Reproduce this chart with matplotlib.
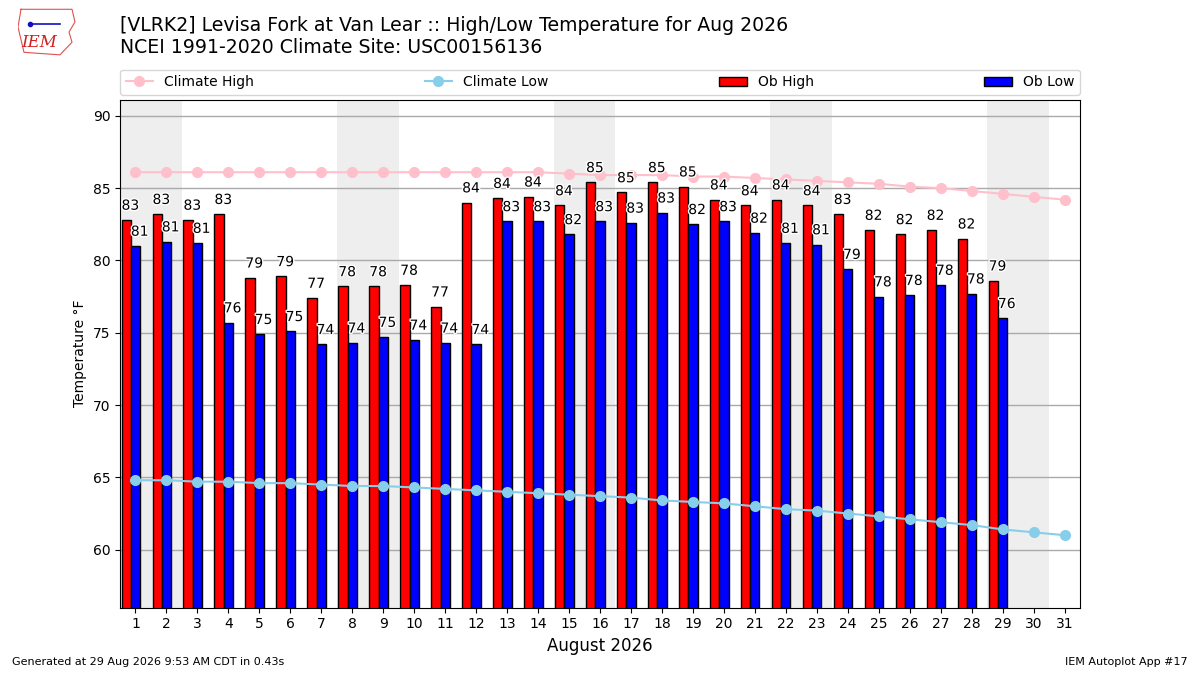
import numpy as np
import matplotlib
matplotlib.use("Agg")
from matplotlib import pyplot as plt
import matplotlib.patheffects as PathEffects

days = np.arange(1, 32)
ob_high = [82.8, 83.2, 82.8, 83.2, 78.8, 78.9, 77.4, 78.2, 78.2, 78.3,
           76.8, 84.0, 84.3, 84.4, 83.8, 85.4, 84.7, 85.4, 85.1, 84.2,
           83.8, 84.2, 83.8, 83.2, 82.1, 81.8, 82.1, 81.5, 78.6]
ob_low = [81.0, 81.3, 81.2, 75.7, 74.9, 75.1, 74.2, 74.3, 74.7, 74.5,
          74.3, 74.2, 82.7, 82.7, 81.8, 82.7, 82.6, 83.3, 82.5, 82.7,
          81.9, 81.2, 81.1, 79.4, 77.5, 77.6, 78.3, 77.7, 76.0]
climo_high = [86.1] * 14 + [86.0, 85.9, 85.9, 85.9, 85.8, 85.8, 85.7, 85.6,
                             85.5, 85.4, 85.3, 85.1, 85.0, 84.8, 84.6, 84.4, 84.2]
climo_low = [64.8, 64.8, 64.7, 64.7, 64.6, 64.6, 64.5, 64.4, 64.4, 64.3,
             64.2, 64.1, 64.0, 63.9, 63.8, 63.7, 63.6, 63.4, 63.3, 63.2,
             63.0, 62.8, 62.7, 62.5, 62.3, 62.1, 61.9, 61.7, 61.4, 61.2, 61.0]
weekend_starts = [1, 8, 15, 22, 29]

fig = plt.figure(figsize=(12, 6.75), dpi=100)
ax = fig.add_axes([0.1, 0.1, 0.8, 0.752])

for d in weekend_starts:
    ax.axvspan(d - 0.5, d + 1.5, color="#eeeeee", zorder=0, lw=0)

ax.plot(days, climo_high, color="pink", marker="o", ms=7, lw=1.5,
        label="Climate High", zorder=3)
ax.plot(days, climo_low, color="skyblue", marker="o", ms=7, lw=1.5,
        label="Climate Low", zorder=3)

obdays = days[:len(ob_high)]
ax.bar(obdays - 0.3, ob_high, width=0.3, color="r", edgecolor="k",
       label="Ob High", zorder=2)
ax.bar(obdays, ob_low, width=0.3, color="b", edgecolor="k",
       label="Ob Low", zorder=2)

for d, hi, lo in zip(obdays, ob_high, ob_low):
    for x, val in [(d - 0.45, hi), (d - 0.15, lo)]:
        t = ax.text(x, val + 0.5, f"{val:.0f}", ha="left", va="bottom",
                    fontsize=10, zorder=4)
        t.set_path_effects([PathEffects.withStroke(linewidth=2, foreground="w")])

ax.set_xlim(0.5, 31.5)
ax.set_ylim(56, 91.1)
ax.set_xticks(days)
ax.set_yticks(np.arange(60, 91, 5))
ax.tick_params(labelsize=10)
ax.yaxis.grid(True, color="#aaaaaa", lw=1)
ax.set_axisbelow(True)
ax.set_ylabel("Temperature °F", fontsize=10)
ax.set_xlabel("August 2026", fontsize=12)

ax.legend(loc="lower left", bbox_to_anchor=(0, 1.01, 1, 0.05), ncol=4,
          mode="expand", fontsize=10, borderaxespad=0)

fig.text(0.1, 0.962, "[VLRK2] Levisa Fork at Van Lear :: High/Low Temperature for Aug 2026",
         fontsize=13.6, va="center")
fig.text(0.1, 0.93, "NCEI 1991-2020 Climate Site: USC00156136", fontsize=13.6, va="center")
fig.text(0.01, 0.015, "Generated at 29 Aug 2026 9:53 AM CDT in 0.43s", fontsize=8)
fig.text(0.99, 0.015, "IEM Autoplot App #17", fontsize=8, ha="right")

# rough IEM logo
lax = fig.add_axes([0.015, 0.915, 0.05, 0.075])
lax.plot([0.05, 0.9, 0.95, 0.85, 0.9, 0.7, 0.1, 0.0, 0.05],
         [0.95, 0.95, 0.7, 0.5, 0.3, 0.05, 0.1, 0.6, 0.95], color="#e05050", lw=0.8)
lax.text(0.35, 0.3, "IEM", color="#d02020", fontsize=12, family="DejaVu Serif",
         style="italic", ha="center", va="center")
lax.plot([0.2, 0.7], [0.65, 0.65], color="#1010c0", lw=1.2)
lax.plot([0.2], [0.65], "o", color="#1010c0", ms=3)
lax.set_xlim(0, 1)
lax.set_ylim(0, 1)
lax.axis("off")

fig.savefig("out.png")
